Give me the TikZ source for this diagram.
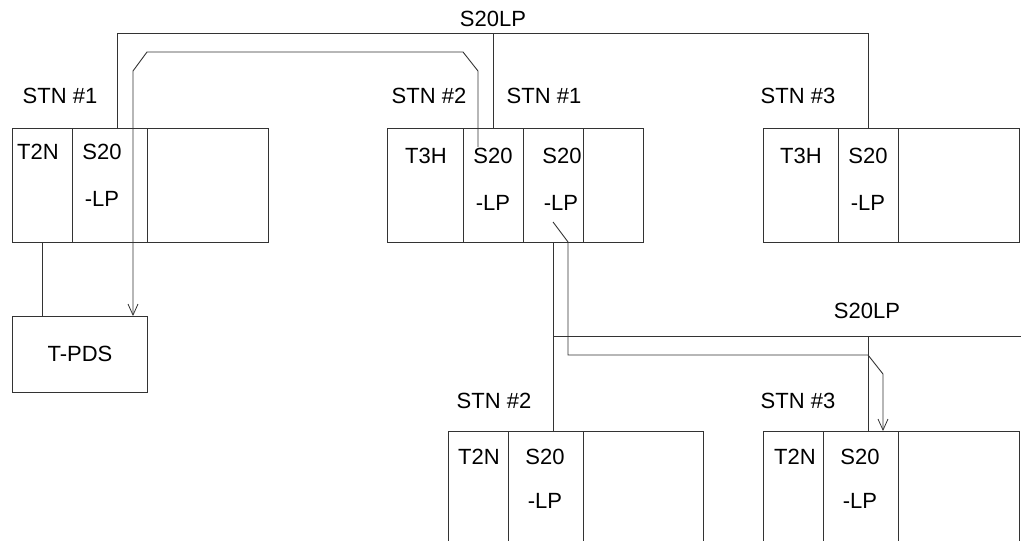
\documentclass[tikz,border=0pt]{standalone}
\usepackage{fontspec}
\setmainfont{Liberation Sans}
\usetikzlibrary{arrows.meta}
\begin{document}
\begin{tikzpicture}[x=1pt,y=-1pt,
  ln/.style={draw=black!80, line width=0.9pt},
  cell/.style={ln, rectangle, inner sep=0pt, outer sep=0pt, anchor=north west},
  lbl/.style={inner sep=0pt, font=\fontsize{22}{24}\selectfont, text=black},
  arr/.style={ln, -{Straight Barb[length=11pt,width=10pt,line width=0.8pt]}}]
\useasboundingbox (0,0) rectangle (1021,541);
\clip (0,0) rectangle (1021,541);
% upper boxes
\node[cell, minimum width=60pt, minimum height=114pt] (b1a) at (12,128) {};
\node[cell, minimum width=75pt, minimum height=114pt] (b1b) at (72,128) {};
\node[cell, minimum width=121pt, minimum height=114pt] (b1c) at (147,128) {};
\node[cell, minimum width=76pt, minimum height=114pt] (b2a) at (387,128) {};
\node[cell, minimum width=60pt, minimum height=114pt] (b2b) at (463,128) {};
\node[cell, minimum width=60pt, minimum height=114pt] (b2c) at (523,128) {};
\node[cell, minimum width=60pt, minimum height=114pt] (b2d) at (583,128) {};
\node[cell, minimum width=75pt, minimum height=114pt] (b3a) at (763,128) {};
\node[cell, minimum width=60pt, minimum height=114pt] (b3b) at (838,128) {};
\node[cell, minimum width=121pt, minimum height=114pt] (b3c) at (898,128) {};
% lower boxes
\node[cell, minimum width=60pt, minimum height=130pt] (b4a) at (448,431) {};
\node[cell, minimum width=75pt, minimum height=130pt] (b4b) at (508,431) {};
\node[cell, minimum width=120pt, minimum height=130pt] (b4c) at (583,431) {};
\node[cell, minimum width=60pt, minimum height=130pt] (b5a) at (763,431) {};
\node[cell, minimum width=75pt, minimum height=130pt] (b5b) at (823,431) {};
\node[cell, minimum width=121pt, minimum height=130pt] (b5c) at (898,431) {};
% T-PDS
\node[cell, minimum width=135pt, minimum height=76pt] (tpds) at (12,316) {};
\node[lbl] (tpdst) at (80,354) {T-PDS};
% cell texts
\node[lbl] (t1a) at (38,152) {T2N};
\node[lbl] (t1b) at (102,152) {S20};
\node[lbl] (t1c) at (102,199) {-LP};
\node[lbl] (t2a) at (426,156) {T3H};
\node[lbl] (t2b) at (493,156) {S20};
\node[lbl] (t2c) at (493,203) {-LP};
\node[lbl] (t2d) at (562,156) {S20};
\node[lbl] (t2e) at (561,203) {-LP};
\node[lbl] (t3a) at (801,156) {T3H};
\node[lbl] (t3b) at (868,156) {S20};
\node[lbl] (t3c) at (868,203) {-LP};
\node[lbl] (t4a) at (479,457) {T2N};
\node[lbl] (t4b) at (545,457) {S20};
\node[lbl] (t4c) at (545,501) {-LP};
\node[lbl] (t5a) at (795,457) {T2N};
\node[lbl] (t5b) at (860,457) {S20};
\node[lbl] (t5c) at (860,501) {-LP};
% station labels
\node[lbl] (s1) at (60,96) {STN \#1};
\node[lbl] (s2) at (429,96) {STN \#2};
\node[lbl] (s3) at (544,96) {STN \#1};
\node[lbl] (s4) at (798,96) {STN \#3};
\node[lbl] (s5) at (494,401) {STN \#2};
\node[lbl] (s6) at (798,401) {STN \#3};
\node[lbl] (bus1) at (493,19) {S20LP};
\node[lbl] (bus2) at (867,311) {S20LP};
% top bus
\coordinate (busL) at (117,33);
\coordinate (busR) at (868,33);
\coordinate (busM) at (493,33);
\draw[ln] (b1b.north -| busL) -- (busL) -- (busR) -- (b3b.north -| busR);
\draw[ln] (busM) -- (b2b.north -| busM);
% crossing arrow to T-PDS
\coordinate (a0) at (478,147);
\coordinate (a1) at (478,71);
\coordinate (a2) at (463,52);
\coordinate (a3) at (147,52);
\coordinate (a4) at (133,71);
\draw[arr] (a0) -- (a1) -- (a2) -- (a3) -- (a4) -- (tpds.north -| a4);
% T2N to T-PDS
\coordinate (c0) at (42,242);
\draw[ln] (c0) -- (tpds.north -| c0);
% lower network
\coordinate (e0) at (553,242);
\draw[ln] (e0) -- (b4b.north -| e0);
\coordinate (busL2) at (553,336);
\coordinate (busR2) at (1021,336);
\draw[ln] (busL2) -- (busR2);
\coordinate (f0) at (868,336);
\draw[ln] (f0) -- (b5b.north -| f0);
\coordinate (d0) at (553,222);
\coordinate (d1) at (568,242);
\coordinate (d2) at (568,355);
\coordinate (d3) at (868,355);
\coordinate (d4) at (883,374);
\draw[arr] (d0) -- (d1) -- (d2) -- (d3) -- (d4) -- (b5b.north -| d4);
\end{tikzpicture}
\end{document}
